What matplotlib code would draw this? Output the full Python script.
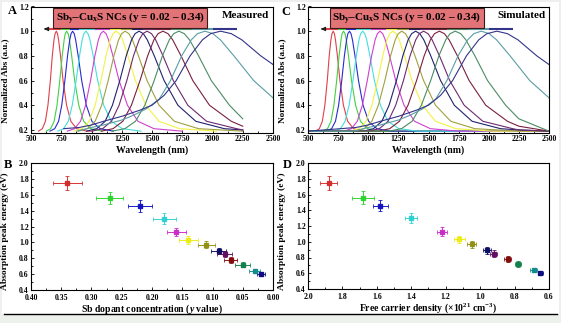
import matplotlib
matplotlib.use("Agg")
import matplotlib.pyplot as plt
from matplotlib.patches import Rectangle
from matplotlib.lines import Line2D
from matplotlib.ticker import MultipleLocator, FormatStrFormatter

plt.rcParams['font.family'] = ['Liberation Serif', 'DejaVu Serif']
plt.rcParams['font.weight'] = 'bold'
plt.rcParams['axes.labelweight'] = 'bold'
plt.rcParams['mathtext.fontset'] = 'custom'
plt.rcParams['mathtext.rm'] = 'Liberation Serif:bold'
plt.rcParams['mathtext.it'] = 'Liberation Serif:italic:bold'
plt.rcParams['mathtext.bf'] = 'Liberation Serif:bold'
plt.rcParams['axes.linewidth'] = 0.8

# one colour per sample, y = 0.34 ... 0.02
line_colors = ['#e0404a', '#44d044', '#2a2ad0', '#44dede', '#d040d0', '#f2f244',
               '#a0a040', '#22226e', '#6e2a6e', '#7a2040', '#4a8c64', '#5a9ea4', '#34348a']
point_colors = ['#d42a2a', '#2ad42a', '#1010c0', '#2ad0d0', '#c82ac8', '#ecec10',
                '#909010', '#0a0a60', '#600a60', '#800a0a', '#10804a', '#108a8a', '#0a0a80']

# absorption peak energy vs dopant level / carrier density
sb_y = [0.34, 0.27, 0.22, 0.18, 0.16, 0.14, 0.11, 0.09, 0.08, 0.07, 0.05, 0.03, 0.02]
sb_y_err = [0.024, 0.022, 0.020, 0.019, 0.016, 0.016, 0.014, 0.013, 0.012, 0.011, 0.012, 0.009, 0.007]
peak_ev = [1.75, 1.56, 1.46, 1.30, 1.13, 1.03, 0.97, 0.89, 0.85, 0.78, 0.72, 0.64, 0.60]
peak_ev_err = [0.09, 0.08, 0.075, 0.065, 0.055, 0.045, 0.045, 0.04, 0.04, 0.035, 0.035, 0.03, 0.025]
carrier = [1.88, 1.68, 1.58, 1.40, 1.22, 1.12, 1.05, 0.96, 0.92, 0.84, 0.78, 0.69, 0.65]
carrier_err = [0.05, 0.065, 0.045, 0.035, 0.03, 0.03, 0.025, 0.025, 0.02, 0.02, 0.02, 0.02, 0.015]

# normalized absorption spectra (wavelength in nm, absorbance)
peak_shape = [0.19, 0.21, 0.27, 0.40, 0.60, 0.80, 0.93, 0.98, 1.00,
              0.98, 0.93, 0.80, 0.60, 0.40, 0.27, 0.21, 0.19]

red_nm = [562, 594, 619, 640, 660, 676, 690, 699, 709, 719, 728, 744, 765, 794, 829, 878, 958, 1000]
red_abs = peak_shape + [0.19]
green_nm = [626, 662, 691, 715, 738, 758, 774, 783, 795, 807, 818, 836, 861, 895, 935, 994, 1088]
green_abs = peak_shape
blue_nm = [656, 696, 728, 754, 780, 802, 820, 831, 844, 857, 869, 890, 919, 957, 1003, 1071, 1181]
blue_abs = peak_shape
cyan_nm = [721, 769, 808, 841, 873, 901, 923, 937, 954, 971, 987, 1014, 1051, 1101, 1163, 1255, 1409]
cyan_abs = peak_shape
magenta_nm = [800, 860, 909, 951, 992, 1028, 1057, 1076, 1097, 1120, 1141, 1177, 1228, 1297, 1384, 1516, 1747]
magenta_abs = peak_shape
yellow_nm = [855, 924, 981, 1030, 1078, 1120, 1155, 1178, 1204, 1231, 1257, 1301, 1363, 1449, 1558, 1727, 2033]
yellow_abs = peak_shape
olive_nm = [892, 967, 1030, 1084, 1138, 1185, 1224, 1249, 1278, 1309, 1338, 1388, 1459, 1558, 1685, 1885, 2250]
olive_abs = peak_shape
navy_nm = [959, 1043, 1113, 1173, 1234, 1287, 1331, 1360, 1393, 1428, 1461, 1519, 1600, 1714, 1862, 2098, 2250]
navy_abs = [0.19, 0.21, 0.27, 0.40, 0.60, 0.80, 0.93, 0.98, 1.00, 0.98, 0.93, 0.80, 0.60, 0.40, 0.27, 0.21, 0.20]
purple_nm = [1004, 1092, 1165, 1228, 1292, 1347, 1394, 1424, 1459, 1496, 1530, 1591, 1676, 1796, 1951, 2199, 2250]
purple_abs = [0.19, 0.21, 0.27, 0.40, 0.60, 0.80, 0.93, 0.98, 1.00, 0.98, 0.93, 0.80, 0.60, 0.40, 0.27, 0.21, 0.20]
maroon_nm = [1081, 1178, 1259, 1330, 1401, 1464, 1516, 1550, 1590, 1632, 1671, 1740, 1837, 1975, 2155, 2250]
maroon_abs = [0.19, 0.21, 0.27, 0.40, 0.60, 0.80, 0.93, 0.98, 1.00, 0.98, 0.93, 0.80, 0.60, 0.40, 0.27, 0.23]
dkgreen_nm = [1170, 1276, 1364, 1441, 1518, 1586, 1643, 1679, 1722, 1767, 1810, 1885, 1990, 2140, 2250]
dkgreen_abs = [0.19, 0.21, 0.27, 0.40, 0.60, 0.80, 0.93, 0.98, 1.00, 0.98, 0.93, 0.80, 0.60, 0.40, 0.29]
teal_nm = [880, 1000, 1100, 1250, 1350, 1450, 1560, 1653, 1745, 1825, 1876, 1938, 2003, 2065, 2177, 2340, 2500]
teal_abs = [0.19, 0.22, 0.24, 0.28, 0.32, 0.37, 0.45, 0.60, 0.80, 0.93, 0.98, 1.00, 0.98, 0.93, 0.80, 0.60, 0.46]
indigo_nm = [770, 900, 1000, 1100, 1250, 1400, 1500, 1600, 1700, 1815, 1917, 1985, 2067, 2155, 2242, 2399, 2500]
indigo_abs = [0.21, 0.22, 0.24, 0.27, 0.31, 0.36, 0.40, 0.48, 0.60, 0.80, 0.93, 0.98, 1.00, 0.98, 0.93, 0.80, 0.73]

spectra = [(red_nm, red_abs), (green_nm, green_abs), (blue_nm, blue_abs), (cyan_nm, cyan_abs),
           (magenta_nm, magenta_abs), (yellow_nm, yellow_abs), (olive_nm, olive_abs),
           (navy_nm, navy_abs), (purple_nm, purple_abs), (maroon_nm, maroon_abs),
           (dkgreen_nm, dkgreen_abs), (teal_nm, teal_abs), (indigo_nm, indigo_abs)]

W, H = 561, 323
fig = plt.figure(figsize=(W / 100, H / 100), dpi=100)
fig.patch.set_facecolor('#eef0ee')
fig.patches.append(Rectangle((2 / W, 9 / H), 1 - 4 / W, 1 - 11 / H, transform=fig.transFigure,
                             facecolor='white', edgecolor='none', zorder=-10))
fig.lines.append(Line2D([4 / W, 557 / W], [9 / H, 9 / H], transform=fig.transFigure,
                        color='black', lw=1.0))


def px_axes(left, top, right, bottom):
    return fig.add_axes([left / W, 1 - bottom / H, (right - left) / W, (bottom - top) / H])


axA = px_axes(31, 6.5, 273, 133)
axC = px_axes(308, 6.5, 549, 133)
axB = px_axes(31, 163, 273, 290)
axD = px_axes(308, 163, 549, 289)


def style(ax, xpad=1.6):
    ax.tick_params(which='both', direction='in', labelsize=5.6, width=0.6, pad=1.6,
                   top=False, right=False)
    ax.tick_params(axis='x', which='both', pad=xpad)
    ax.tick_params(which='major', length=2.2)
    ax.tick_params(which='minor', length=1.2)
    for lab in ax.get_xticklabels() + ax.get_yticklabels():
        lab.set_fontweight('bold')


peaks = [nm[ab.index(max(ab))] for nm, ab in spectra]
arrow_y = 1.018


def spectra_panel(ax, simulated):
    for (nm, ab), c in zip(spectra, line_colors):
        if simulated:
            nm = [500] + nm + ([2500] if nm[-1] < 2500 else [])
            ab = [0.19] + ab + ([0.19] if len(nm) > len(ab) + 1 else [])
        ax.plot(nm, ab, color=c, lw=0.8)
    ax.set_xlim(500, 2500)
    ax.set_ylim(0.175, 1.2)
    ax.xaxis.set_major_locator(MultipleLocator(250))
    ax.xaxis.set_minor_locator(MultipleLocator(125))
    ax.yaxis.set_major_locator(MultipleLocator(0.2))
    ax.yaxis.set_minor_locator(MultipleLocator(0.1))
    ax.yaxis.set_major_formatter(FormatStrFormatter('%.1f'))
    ax.set_xlabel('Wavelength (nm)', fontsize=7, labelpad=1.5)
    ax.set_ylabel('Normalized Abs (a.u.)', fontsize=6.6, labelpad=2)
    ax.yaxis.set_label_coords(-0.09, 0.41)
    style(ax)

    # colour-coded arrow from long to short wavelength
    edges = [616] + [(a + b) / 2 for a, b in zip(peaks[:-1], peaks[1:])] + [2200]
    for x0, x1, c in zip(edges[:-1], edges[1:], line_colors):
        ax.plot([x0, x1], [arrow_y, arrow_y], color=c, lw=1.5, solid_capstyle='butt')
    ax.annotate('', xy=(585, arrow_y), xytext=(640, arrow_y),
                arrowprops=dict(arrowstyle='-|>', color='#202020', lw=0.8, mutation_scale=6))

    ax.text(0.41, 0.909, r'Sb$_{\mathrm{y}}$–Cu$_{\mathrm{x}}$S NCs (y = 0.02 – 0.34)',
            transform=ax.transAxes, ha='center', va='center', fontsize=8,
            bbox=dict(boxstyle='square,pad=0.2', fc='#e27377', ec='#3a1a1a', lw=0.8))
    ax.text(0.985, 0.93, 'Simulated' if simulated else 'Measured', transform=ax.transAxes,
            ha='right', va='center', fontsize=8)


spectra_panel(axA, False)
spectra_panel(axC, True)


def energy_panel(ax, x, xerr, xlim, xmajor, xminor, fmt, xlabel):
    for xi, yi, xe, ye, c in zip(x, peak_ev, xerr, peak_ev_err, point_colors):
        ax.errorbar(xi, yi, xerr=xe, yerr=ye, fmt='s', color=c, ms=2.4, elinewidth=0.7,
                    capsize=1.4, capthick=0.6, ecolor=c, alpha=0.95)
    ax.set_xlim(*xlim)
    ax.set_ylim(0.4, 2.0)
    ax.xaxis.set_major_locator(MultipleLocator(xmajor))
    ax.xaxis.set_minor_locator(MultipleLocator(xminor))
    ax.xaxis.set_major_formatter(FormatStrFormatter(fmt))
    ax.yaxis.set_major_locator(MultipleLocator(0.2))
    ax.yaxis.set_minor_locator(MultipleLocator(0.1))
    ax.yaxis.set_major_formatter(FormatStrFormatter('%.1f'))
    ax.set_xlabel(xlabel, fontsize=7, labelpad=0.3)
    ax.set_ylabel('Absorption peak energy (eV)', fontsize=6.8, labelpad=2)
    ax.yaxis.set_label_coords(-0.09, 0.46)
    style(ax, xpad=2.6)


energy_panel(axB, sb_y, sb_y_err, (0.40, 0.0), 0.05, 0.025, '%.2f',
             'Sb dopant concentration ($y$ value)')
energy_panel(axD, carrier, carrier_err, (2.0, 0.6), 0.2, 0.1, '%.1f',
             'Free carrier density (×10$^{21}$ cm$^{-3}$)')

for letter, x, y in [('A', 12, 11), ('C', 286, 12), ('B', 8, 165), ('D', 287, 165)]:
    fig.text(x / W, 1 - y / H, letter, fontsize=9, fontweight='bold', ha='center', va='center')

fig.savefig('out.png', dpi=100, facecolor=fig.get_facecolor())
